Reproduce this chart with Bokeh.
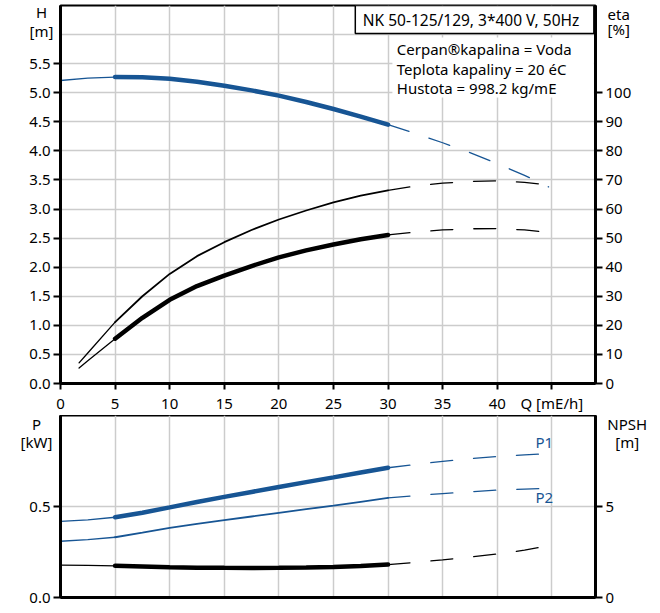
from bokeh.plotting import figure
from bokeh.models import Range1d, LinearAxis, FixedTicker, Label, PrintfTickFormatter
from bokeh.layouts import column
from bokeh.embed import file_html
from bokeh.resources import INLINE

# ---------------- data ----------------
q = [0, 2.5, 5, 7.5, 10, 12.5, 15, 17.5, 20, 22.5, 25, 27.5, 30, 32.5, 35, 37.5, 40, 42.5, 44.7]
head = [5.21, 5.25, 5.27, 5.265, 5.24, 5.19, 5.12, 5.04, 4.95, 4.84, 4.72, 4.59, 4.45,
        4.30, 4.14, 3.97, 3.78, 3.58, 3.38]
p1 = [0.418, 0.427, 0.441, 0.466, 0.495, 0.525, 0.553, 0.580, 0.607, 0.634, 0.660, 0.687, 0.713,
      0.731, 0.748, 0.763, 0.775, 0.784, 0.790]
p2 = [0.309, 0.318, 0.331, 0.356, 0.383, 0.405, 0.425, 0.445, 0.465, 0.485, 0.505, 0.526, 0.547,
      0.560, 0.571, 0.581, 0.590, 0.596, 0.599]
npsh = [1.78, 1.76, 1.74, 1.70, 1.66, 1.64, 1.63, 1.625, 1.63, 1.645, 1.67, 1.73, 1.81,
        1.93, 2.07, 2.22, 2.39, 2.60, 2.84]

q_eta = [1.7, 2.5, 5, 7.5, 10, 12.5, 15, 17.5, 20, 22.5, 25, 27.5, 30, 32.5, 35, 37.5, 40, 42.5, 44.7]
eta_pump = [7.1, 10.5, 21.1, 30.0, 37.7, 43.8, 48.6, 52.8, 56.4, 59.5, 62.3, 64.6, 66.4,
            67.9, 68.9, 69.5, 69.7, 69.2, 68.3]
eta_total = [5.3, 7.8, 15.4, 22.6, 28.8, 33.5, 37.1, 40.4, 43.4, 45.8, 47.8, 49.6, 51.1,
             52.1, 52.8, 53.2, 53.3, 52.8, 52.0]

q_ticks = [0, 5, 10, 15, 20, 25, 30, 35, 40, 45]
h_ticks = [0.0, 0.5, 1.0, 1.5, 2.0, 2.5, 3.0, 3.5, 4.0, 4.5, 5.0, 5.5]
h_grid = [0.5, 1.0, 1.5, 2.0, 2.5, 3.0, 3.5, 4.0, 4.5, 5.0, 5.5, 6.0]
eta_ticks = [0, 10, 20, 30, 40, 50, 60, 70, 80, 90, 100]
p_ticks = [0.0, 0.5]
npsh_ticks = [0, 5]

title_text = "NK 50-125/129, 3*400 V, 50Hz"
info_lines = ["Cerpan®kapalina = Voda", "Teplota kapaliny = 20 éC", "Hustota = 998.2 kg/mE"]

BLUE = "#175594"
FONT = "Noto Sans"
FS = "15px"
Q_MAX = 49.0
H_MAX = 6.5
ETA_MAX = H_MAX * 20


def seg(xs, ys, lo, hi):
    xx, yy = [], []
    for a, b in zip(xs, ys):
        if lo <= a <= hi:
            xx.append(a)
            yy.append(b)
    return xx, yy


def style(fig):
    fig.outline_line_color = "black"
    fig.outline_line_width = 2
    fig.background_fill_color = "white"
    fig.border_fill_color = "white"
    for g in fig.grid:
        g.grid_line_color = "#cccccc"
        g.grid_line_width = 1.5
    for ax in fig.axis:
        ax.axis_line_width = 3
        ax.axis_line_color = "black"
        ax.major_tick_line_width = 2
        ax.major_tick_out = 7
        ax.major_tick_in = 0
        ax.minor_tick_line_color = None
        ax.major_label_standoff = 3
        ax.major_label_text_font = FONT
        ax.major_label_text_font_size = FS
        ax.major_label_text_color = "black"


def draw(fig, xs, ys, color, y_range_name="default", thin_until=5, thick_w=4.5, thin_w=1.3, mid_w=None):
    kw = dict(y_range_name=y_range_name, line_color=color, line_cap="round")
    a, b = seg(xs, ys, -1, thin_until)
    fig.line(a, b, line_width=thin_w, **kw)
    a, b = seg(xs, ys, thin_until, 30)
    fig.line(a, b, line_width=(mid_w if mid_w else thick_w), **kw)
    a, b = seg(xs, ys, 30, 99)
    fig.line(a, b, line_width=thin_w, line_dash="22 21", **kw)


def lab(fig, x, y, text, align="center", color="black", size=FS, place=None):
    # labels outside the frame live in a side panel (so they are not clipped);
    # their position still comes from the data coordinates
    lbl = Label(x=x, y=y, text=text, text_align=align, text_baseline="middle",
                text_font=FONT, text_font_size=size, text_color=color)
    if place:
        fig.add_layout(lbl, place)
    else:
        fig.add_layout(lbl)


xr = Range1d(0, Q_MAX)

# ---------------- top: H / eta ----------------
p = figure(frame_width=535, frame_height=378, x_range=xr, y_range=Range1d(0, H_MAX),
           output_backend="svg", toolbar_location=None,
           min_border_left=60, min_border_right=63, min_border_top=5, min_border_bottom=28)
p.extra_y_ranges = {"eta": Range1d(0, ETA_MAX)}
p.add_layout(LinearAxis(y_range_name="eta", ticker=FixedTicker(ticks=eta_ticks)), "right")
p.xaxis.ticker = FixedTicker(ticks=q_ticks)
p.xaxis.major_label_overrides = {45: "Q [mE/h]"}
p.yaxis[0].ticker = FixedTicker(ticks=h_ticks)
p.yaxis[0].formatter = PrintfTickFormatter(format="%.1f")
p.xgrid.ticker = FixedTicker(ticks=q_ticks[1:])
p.ygrid.ticker = FixedTicker(ticks=h_grid)
style(p)
p.xaxis.major_tick_out = 6

# white boxes behind the texts
p.quad(left=[27.0], right=[48.85], bottom=[6.02], top=[H_MAX],
       fill_color="white", line_color="black", line_width=1.5)
p.quad(left=[30.4], right=[48.85], bottom=[4.92], top=[5.95],
       fill_color="white", line_color=None)

draw(p, q, head, BLUE)
draw(p, q_eta, eta_pump, "black", y_range_name="eta", mid_w=1.8)
draw(p, q_eta, eta_total, "black", y_range_name="eta")

lab(p, 37.6, 6.25, title_text, size="15.5px")
for i, t in enumerate(info_lines):
    lab(p, 30.8, 5.745 - i * 0.33, t, align="left")
lab(p, -1.74, 6.38, "H", place="left")
lab(p, -1.74, 6.07, "[m]", place="right")
lab(p, 50.1, 6.35, "eta", align="left", place="right")
lab(p, 50.1, 6.09, "[%]", align="left", place="right")

# ---------------- bottom: P / NPSH ----------------
b = figure(frame_width=535, frame_height=182, x_range=xr, y_range=Range1d(0, 1.0),
           output_backend="svg", toolbar_location=None,
           min_border_left=60, min_border_right=63, min_border_top=0, min_border_bottom=12)
b.extra_y_ranges = {"npsh": Range1d(0, 10)}
b.add_layout(LinearAxis(y_range_name="npsh", ticker=FixedTicker(ticks=npsh_ticks)), "right")
b.yaxis[0].ticker = FixedTicker(ticks=p_ticks)
b.yaxis[0].formatter = PrintfTickFormatter(format="%.1f")
b.xgrid.ticker = FixedTicker(ticks=q_ticks[1:])
b.ygrid.ticker = FixedTicker(ticks=[0.5])
style(b)
b.xaxis.ticker = FixedTicker(ticks=[])
b.xaxis.major_tick_out = 0
b.xaxis.major_label_standoff = 0

draw(b, q, p1, BLUE)
draw(b, q, p2, BLUE, mid_w=1.8)
draw(b, q, npsh, "black", y_range_name="npsh")

lab(b, 43.5, 0.855, "P1", align="left", color=BLUE)
lab(b, 43.5, 0.552, "P2", align="left", color=BLUE)
lab(b, -2.2, 0.951, "P", place="left")
lab(b, -2.2, 0.857, "[kW]", place="right")
lab(b, 51.9, 0.951, "NPSH", place="right")
lab(b, 51.9, 0.857, "[m]", place="right")

layout = column(p, b)
open("out.html", "w").write(file_html(layout, INLINE))
